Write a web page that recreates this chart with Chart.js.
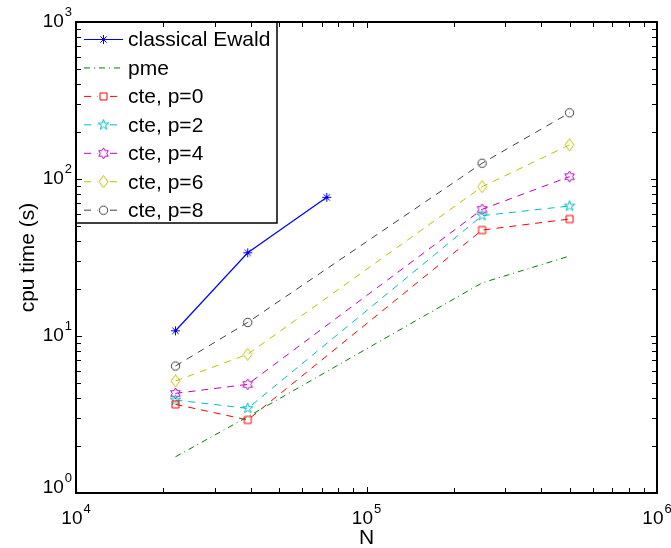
<!DOCTYPE html>
<html>
<head>
<meta charset="utf-8">
<script src="https://cdn.jsdelivr.net/npm/chart.js@4"></script>
<style>
  html, body { margin: 0; padding: 0; background: #fff; }
  canvas { display: block; }
</style>
</head>
<body>
<canvas id="c" width="671" height="548"></canvas>
<script>
// values (log-log)
const nEwald = [22000, 39000, 73000];
const tEwald = [10.8, 33.9, 76.4];
const nCte = [22000, 39000, 250000, 500000];
const tPme = [1.70, 3.06, 21.8, 32.3];
const tP0 = [3.67, 2.92, 47.3, 55.6];
const tP2 = [3.91, 3.46, 58.4, 67.3];
const tP4 = [4.31, 4.92, 64.1, 103.5];
const tP6 = [5.17, 7.65, 89.3, 165];
const tP8 = [6.44, 12.2, 126, 264];

const seriesNames = ['classical Ewald', 'pme', 'cte, p=0', 'cte, p=2', 'cte, p=4', 'cte, p=6', 'cte, p=8'];
const xExponents = [4, 5, 6];
const yExponents = [0, 1, 2, 3];
const xTitle = 'N';
const yTitle = 'cpu time (s)';

const FONT = '"Liberation Sans", Arial, Helvetica, sans-serif';

// little marker glyphs, matlab style
function glyph(kind, color) {
  const size = 13;
  const c = document.createElement('canvas');
  c.width = size; c.height = size;
  const g = c.getContext('2d');
  const m = size / 2;
  g.strokeStyle = color;
  g.lineWidth = 1;
  g.beginPath();
  if (kind === 'asterisk') {
    const r = 4.5;
    for (let i = 0; i < 4; i++) {
      const a = i * Math.PI / 4;
      g.moveTo(m - r * Math.cos(a), m - r * Math.sin(a));
      g.lineTo(m + r * Math.cos(a), m + r * Math.sin(a));
    }
  } else if (kind === 'square') {
    g.rect(m - 3.5, m - 3.5, 7, 7);
  } else if (kind === 'diamond') {
    g.moveTo(m, m - 6); g.lineTo(m + 4.5, m); g.lineTo(m, m + 6); g.lineTo(m - 4.5, m); g.closePath();
  } else if (kind === 'circle') {
    g.arc(m, m, 4.2, 0, Math.PI * 2);
  } else if (kind === 'pentagram' || kind === 'hexagram') {
    const pts = kind === 'pentagram' ? 5 : 6;
    const R = 5.5, r = kind === 'pentagram' ? R * 0.382 : R * 0.577;
    for (let i = 0; i < pts * 2; i++) {
      const a = -Math.PI / 2 + i * Math.PI / pts;
      const rr = i % 2 === 0 ? R : r;
      const px = m + rr * Math.cos(a), py = m + rr * Math.sin(a);
      if (i === 0) g.moveTo(px, py); else g.lineTo(px, py);
    }
    g.closePath();
  }
  g.stroke();
  return c;
}

const blue = 'rgb(0,0,255)';
const green = 'rgb(0,128,0)';
const red = 'rgb(255,0,0)';
const cyan = 'rgb(0,191,191)';
const magenta = 'rgb(191,0,191)';
const yellow = 'rgb(191,191,0)';
const gray = 'rgb(64,64,64)';

const pts = (xs, ys) => xs.map((x, i) => ({ x: x, y: ys[i] }));

const datasets = [
  { label: seriesNames[0], data: pts(nEwald, tEwald), borderColor: blue, borderWidth: 1.2, borderDash: [],
    pointStyle: glyph('asterisk', blue), pointRadius: 5 },
  { label: seriesNames[1], data: pts(nCte, tPme), borderColor: green, borderWidth: 1, borderDash: [6, 4, 1, 4],
    pointStyle: false, pointRadius: 0 },
  { label: seriesNames[2], data: pts(nCte, tP0), borderColor: red, borderWidth: 1, borderDash: [7, 6],
    pointStyle: glyph('square', red), pointRadius: 5 },
  { label: seriesNames[3], data: pts(nCte, tP2), borderColor: cyan, borderWidth: 1, borderDash: [7, 6],
    pointStyle: glyph('pentagram', cyan), pointRadius: 5 },
  { label: seriesNames[4], data: pts(nCte, tP4), borderColor: magenta, borderWidth: 1, borderDash: [7, 6],
    pointStyle: glyph('hexagram', magenta), pointRadius: 5 },
  { label: seriesNames[5], data: pts(nCte, tP6), borderColor: yellow, borderWidth: 1, borderDash: [7, 6],
    pointStyle: glyph('diamond', yellow), pointRadius: 5 },
  { label: seriesNames[6], data: pts(nCte, tP8), borderColor: gray, borderWidth: 1, borderDash: [7, 6],
    pointStyle: glyph('circle', gray), pointRadius: 5 }
];

function powLabel(ctx, exp, x, y, align) {
  ctx.font = '19px ' + FONT;
  const wb = ctx.measureText('10').width;
  ctx.font = '13px ' + FONT;
  const we = ctx.measureText(String(exp)).width;
  const total = wb + we + 1;
  const x0 = align === 'right' ? x - total : x - total / 2;
  ctx.textAlign = 'left';
  ctx.textBaseline = 'middle';
  ctx.fillStyle = '#000';
  ctx.font = '19px ' + FONT;
  ctx.fillText('10', x0, y);
  ctx.font = '13px ' + FONT;
  ctx.fillText(String(exp), x0 + wb + 1, y - 10);
}

const matlabAxes = {
  id: 'matlabAxes',
  afterDraw(chart) {
    const ctx = chart.ctx;
    const a = chart.chartArea;
    const xs = chart.scales.x, ys = chart.scales.y;
    ctx.save();

    // legend
    const lx = a.left, ly = a.top, lw = 201, lh = 201;
    ctx.fillStyle = '#fff';
    ctx.fillRect(lx, ly, lw, lh);
    ctx.strokeStyle = '#000';
    ctx.lineWidth = 1.5;
    ctx.strokeRect(lx, ly, lw, lh);
    datasets.forEach((ds, i) => {
      const y = ly + 17.5 + i * 28.45;
      ctx.strokeStyle = ds.borderColor;
      ctx.lineWidth = 1;
      ctx.setLineDash(ds.borderDash.length ? [7, 6] : []);
      if (i === 1) ctx.setLineDash([6, 4, 1, 4]);
      ctx.beginPath();
      ctx.moveTo(lx + 8, y); ctx.lineTo(lx + 47, y);
      ctx.stroke();
      ctx.setLineDash([]);
      if (ds.pointStyle) {
        const g = ds.pointStyle;
        ctx.fillStyle = '#fff';
        if (ds.borderDash.length) ctx.fillRect(lx + 27.5 - 6, y - 6, 12, 12);
        ctx.drawImage(g, lx + 27.5 - g.width / 2, y - g.height / 2);
      }
      ctx.fillStyle = '#000';
      ctx.font = '21px ' + FONT;
      ctx.textAlign = 'left';
      ctx.textBaseline = 'middle';
      ctx.fillText(ds.label, lx + 52, y + 1);
    });

    // ticks, inward on all four sides
    ctx.strokeStyle = '#000';
    ctx.lineWidth = 1;
    for (let e = xExponents[0]; e <= xExponents[xExponents.length - 1]; e++) {
      for (let k = 1; k <= 9; k++) {
        const v = k * Math.pow(10, e);
        if (v > Math.pow(10, xExponents[xExponents.length - 1])) break;
        const px = Math.round(xs.getPixelForValue(v)) + 0.5;
        const len = k === 1 ? 6 : 5;
        ctx.beginPath();
        ctx.moveTo(px, a.bottom); ctx.lineTo(px, a.bottom - len);
        ctx.moveTo(px, a.top); ctx.lineTo(px, a.top + len);
        ctx.stroke();
      }
    }
    for (let e = yExponents[0]; e <= yExponents[yExponents.length - 1]; e++) {
      for (let k = 1; k <= 9; k++) {
        const v = k * Math.pow(10, e);
        if (v > Math.pow(10, yExponents[yExponents.length - 1])) break;
        const py = Math.round(ys.getPixelForValue(v)) + 0.5;
        const len = k === 1 ? 6 : 5;
        ctx.beginPath();
        ctx.moveTo(a.left, py); ctx.lineTo(a.left + len, py);
        ctx.moveTo(a.right, py); ctx.lineTo(a.right - len, py);
        ctx.stroke();
      }
    }

    // box
    ctx.lineWidth = 2;
    ctx.strokeRect(a.left, a.top, a.right - a.left, a.bottom - a.top);

    // tick labels
    xExponents.forEach(e => powLabel(ctx, e, xs.getPixelForValue(Math.pow(10, e)), a.bottom + 26, 'center'));
    yExponents.forEach(e => powLabel(ctx, e, a.left - 4, ys.getPixelForValue(Math.pow(10, e)) - (e === 0 ? 5 : 0), 'right'));

    // axis titles
    ctx.fillStyle = '#000';
    ctx.font = '21px ' + FONT;
    ctx.textAlign = 'center';
    ctx.textBaseline = 'middle';
    ctx.fillText(xTitle, (a.left + a.right) / 2, 538);
    ctx.translate(28, (a.top + a.bottom) / 2);
    ctx.rotate(-Math.PI / 2);
    ctx.fillText(yTitle, 0, 0);
    ctx.restore();
  }
};

new Chart(document.getElementById('c').getContext('2d'), {
  type: 'line',
  data: { datasets: datasets },
  options: {
    responsive: false,
    devicePixelRatio: 1,
    animation: false,
    events: [],
    layout: { padding: { left: 76, top: 22, right: 14, bottom: 55 } },
    elements: { line: { tension: 0, fill: false } },
    plugins: { legend: { display: false }, tooltip: { enabled: false } },
    scales: {
      x: { type: 'logarithmic', min: 1e4, max: 1e6, display: false },
      y: { type: 'logarithmic', min: 1, max: 1e3, display: false }
    }
  },
  plugins: [matlabAxes]
});
</script>
</body>
</html>
